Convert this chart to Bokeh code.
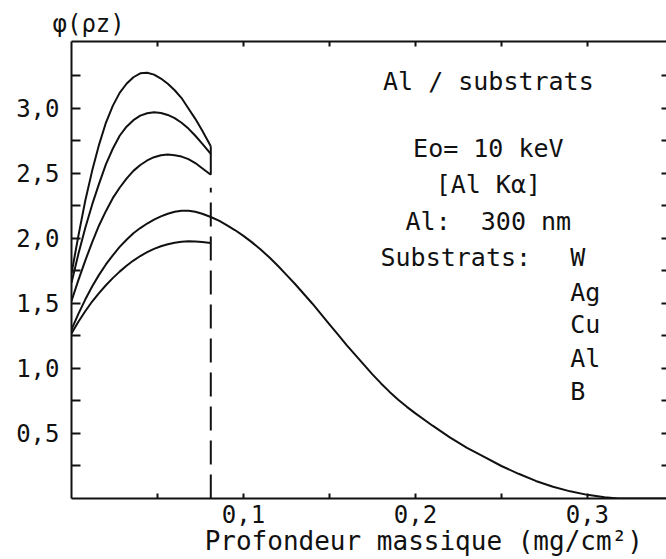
from bokeh.plotting import figure
from bokeh.models import Range1d, LinearAxis, FixedTicker, Label, CustomJSTickFormatter
from bokeh.embed import file_html
from bokeh.resources import INLINE

FONT = "DejaVu Sans Mono"

# ---- data ----
depth_W = [0, 0.004, 0.008, 0.012, 0.016, 0.020, 0.024, 0.028, 0.032, 0.036, 0.040, 0.044,
           0.048, 0.052, 0.056, 0.060, 0.064, 0.068, 0.072, 0.076, 0.081]
phi_W = [1.73, 2.02, 2.29, 2.52, 2.72, 2.89, 3.02, 3.12, 3.19, 3.24, 3.27, 3.275,
         3.26, 3.23, 3.19, 3.14, 3.08, 3.00, 2.92, 2.83, 2.71]

depth_Ag = [0, 0.004, 0.008, 0.012, 0.016, 0.020, 0.024, 0.028, 0.032, 0.036, 0.040, 0.044,
            0.048, 0.052, 0.056, 0.060, 0.064, 0.068, 0.072, 0.076, 0.081]
phi_Ag = [1.66, 1.88, 2.08, 2.26, 2.42, 2.57, 2.69, 2.79, 2.86, 2.91, 2.945, 2.963,
          2.97, 2.965, 2.95, 2.925, 2.89, 2.845, 2.79, 2.73, 2.65]

depth_Cu = [0, 0.004, 0.008, 0.012, 0.016, 0.020, 0.024, 0.028, 0.032, 0.036, 0.040, 0.044,
            0.048, 0.052, 0.056, 0.060, 0.064, 0.068, 0.072, 0.076, 0.081]
phi_Cu = [1.52, 1.68, 1.83, 1.97, 2.10, 2.21, 2.31, 2.39, 2.46, 2.52, 2.565, 2.60,
          2.625, 2.64, 2.645, 2.64, 2.63, 2.61, 2.58, 2.54, 2.49]

depth_Al = [0, 0.004, 0.008, 0.012, 0.016, 0.020, 0.024, 0.028, 0.032, 0.036, 0.040, 0.044,
            0.048, 0.052, 0.056, 0.060, 0.064, 0.068, 0.072, 0.076, 0.081, 0.086, 0.090,
            0.095, 0.100, 0.105, 0.110, 0.115, 0.120, 0.125, 0.130, 0.135, 0.140, 0.145,
            0.150, 0.155, 0.160, 0.165, 0.170, 0.175, 0.180, 0.185, 0.190, 0.195, 0.200,
            0.210, 0.220, 0.230, 0.240, 0.250, 0.260, 0.270, 0.280, 0.290, 0.300, 0.310,
            0.318, 0.346]
phi_Al = [1.30, 1.42, 1.53, 1.63, 1.72, 1.80, 1.87, 1.935, 1.99, 2.04, 2.08, 2.115,
          2.145, 2.17, 2.19, 2.205, 2.213, 2.213, 2.205, 2.19, 2.165, 2.135, 2.105,
          2.065, 2.02, 1.97, 1.915, 1.855, 1.79, 1.72, 1.65, 1.575, 1.50, 1.42,
          1.34, 1.26, 1.18, 1.105, 1.03, 0.955, 0.885, 0.82, 0.76, 0.705, 0.655,
          0.56, 0.47, 0.39, 0.32, 0.25, 0.19, 0.135, 0.09, 0.055, 0.028, 0.01,
          0.0, 0.0]

depth_B = [0, 0.004, 0.008, 0.012, 0.016, 0.020, 0.024, 0.028, 0.032, 0.036, 0.040, 0.044,
           0.048, 0.052, 0.056, 0.060, 0.064, 0.068, 0.072, 0.076, 0.081]
phi_B = [1.27, 1.36, 1.44, 1.515, 1.58, 1.64, 1.695, 1.745, 1.79, 1.83, 1.865, 1.895,
         1.92, 1.94, 1.955, 1.967, 1.975, 1.978, 1.977, 1.972, 1.965]

film_depth = 0.081  # Al film, 300 nm

x_ticks = [0.1, 0.2, 0.3]
x_minor = [0.05, 0.15, 0.25]
y_ticks = [0.5, 1.0, 1.5, 2.0, 2.5, 3.0]
y_minor = [0.25, 0.75, 1.25, 1.75, 2.25, 2.75, 3.25]
y_right_ticks = [0.25, 0.5, 0.75, 1.0, 1.25, 1.5, 1.75, 2.0, 2.25, 2.5, 2.75, 3.0, 3.25]

title_text = "Al / substrats"
info_lines = ["Eo= 10 keV", "[Al Kα]", "Al:\u00a0\u00a0300 nm"]
substrats_label = "Substrats:"
substrats = ["W", "Ag", "Cu", "Al", "B"]
x_title = "Profondeur massique (mg/cm²)"
y_title = "φ(ρz)"

INK = "#111111"

# ---- figure ----
p = figure(width=666, height=559, output_backend="svg", toolbar_location=None,
           x_range=Range1d(0, 0.346), y_range=Range1d(0, 3.515),
           x_axis_location=None, y_axis_location=None,
           min_border_left=71, min_border_right=0, min_border_top=41, min_border_bottom=61,
           background_fill_color="white", border_fill_color="white",
           title=y_title)
p.outline_line_color = None
p.grid.grid_line_color = None
p.title.align = "left"
p.title.offset = -19
p.title.standoff = 7
p.title.text_font = FONT
p.title.text_font_size = "24px"
p.title.text_font_style = "normal"
p.title.text_color = INK

comma_fmt = CustomJSTickFormatter(code="return tick.toFixed(1).replace('.', ',');")
blank_fmt = CustomJSTickFormatter(code="return '';")

pad = "\u00a0" * 7
bottom = LinearAxis(ticker=FixedTicker(ticks=x_ticks, minor_ticks=x_minor), formatter=comma_fmt,
                    major_tick_in=5, major_tick_out=0, minor_tick_in=5, minor_tick_out=0,
                    major_label_standoff=6, major_label_text_font=FONT,
                    major_label_text_font_size="24px", major_label_text_color=INK,
                    axis_label=pad + x_title, axis_label_standoff=0,
                    axis_label_text_font=FONT, axis_label_text_font_size="26px",
                    axis_label_text_font_style="normal", axis_label_text_color=INK,
                    axis_line_width=2, axis_line_color=INK, major_tick_line_width=2,
                    minor_tick_line_width=2, major_tick_line_color=INK, minor_tick_line_color=INK)
p.add_layout(bottom, "below")

top = LinearAxis(ticker=FixedTicker(ticks=x_ticks, minor_ticks=x_minor), formatter=blank_fmt,
                 major_tick_in=5, major_tick_out=0, minor_tick_in=5, minor_tick_out=0,
                 major_label_standoff=0, axis_line_width=2, axis_line_color=INK,
                 major_tick_line_width=2, minor_tick_line_width=2,
                 major_tick_line_color=INK, minor_tick_line_color=INK)
p.add_layout(top, "above")

left = LinearAxis(ticker=FixedTicker(ticks=y_ticks, minor_ticks=y_minor), formatter=comma_fmt,
                  major_tick_in=9, major_tick_out=0, minor_tick_in=9, minor_tick_out=0,
                  major_label_standoff=12, major_label_text_font=FONT,
                  major_label_text_font_size="24px", major_label_text_color=INK,
                  axis_line_width=2, axis_line_color=INK, major_tick_line_width=2,
                  minor_tick_line_width=2, major_tick_line_color=INK, minor_tick_line_color=INK)
p.add_layout(left, "left")

right = LinearAxis(ticker=FixedTicker(ticks=y_right_ticks), formatter=blank_fmt,
                   major_tick_in=5, major_tick_out=0, minor_tick_line_color=None,
                   major_label_standoff=0, axis_line_color=None,
                   major_tick_line_width=2, major_tick_line_color=INK)
p.add_layout(right, "right")

# ---- curves ----
for xs, ys in [(depth_W, phi_W), (depth_Ag, phi_Ag), (depth_Cu, phi_Cu), (depth_Al, phi_Al), (depth_B, phi_B)]:
    p.line(xs, ys, line_color=INK, line_width=2, line_join="round")

# film interface: solid join of the top curves, dashed below
p.segment(x0=[film_depth], y0=[phi_Cu[-1]], x1=[film_depth], y1=[phi_W[-1]], line_color=INK, line_width=2)
p.segment(x0=[film_depth], y0=[0], x1=[film_depth], y1=[phi_Cu[-1] - 0.1], line_color=INK,
          line_width=2, line_dash="24 10")

# ---- texts ----
def lab(x, y, text, align="left", size="25px"):
    p.add_layout(Label(x=x, y=y, text=text, text_font=FONT, text_font_size=size,
                       text_align=align, text_baseline="middle", text_color=INK))

lab(0.2424, 3.208, title_text, align="center")
for t, yy in zip(info_lines, [2.692, 2.415, 2.131]):
    lab(0.2424, yy, t, align="center")
lab(0.1797, 1.854, substrats_label)
for s, yy in zip(substrats, [1.854, 1.585, 1.338, 1.077, 0.823]):
    lab(0.290, yy, s)

open("out.html", "w").write(file_html(p, INLINE))
